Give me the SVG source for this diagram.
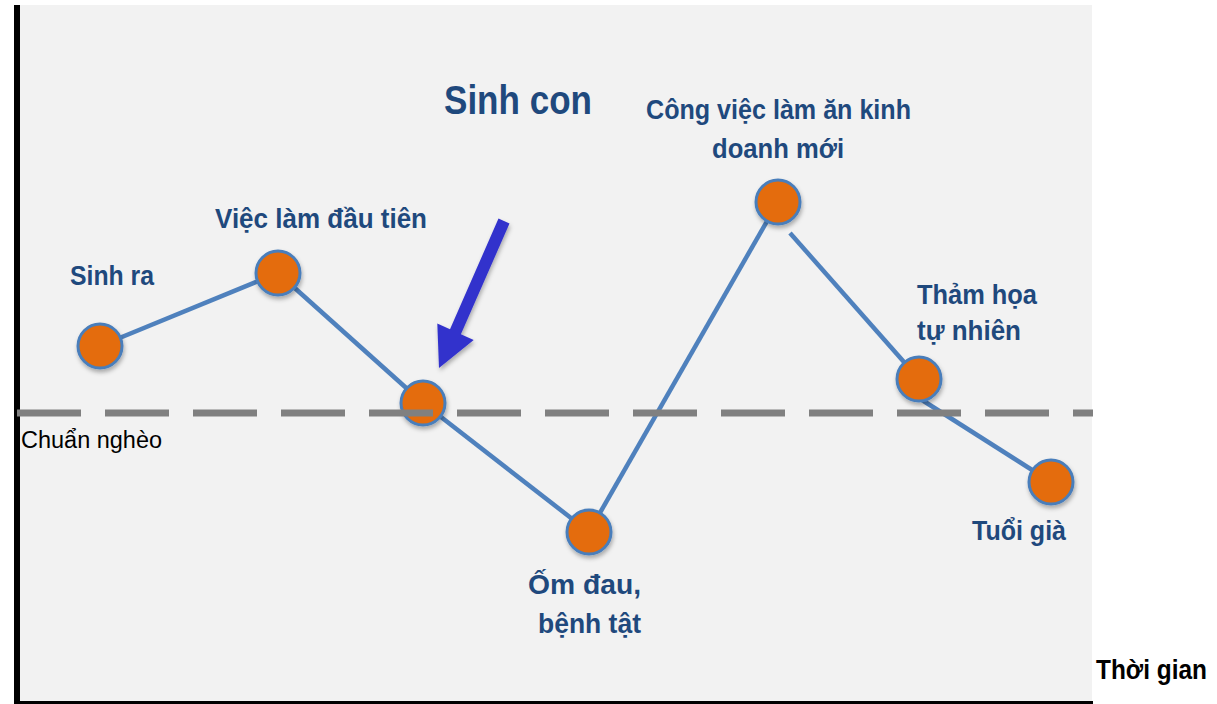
<svg xmlns="http://www.w3.org/2000/svg" width="1217" height="704" viewBox="0 0 1217 704">
  <style>
    .lbl { font-family: "Liberation Sans", Arial, sans-serif; font-weight: bold; font-size: 27px; fill: #1f497d; }
    .big { font-size: 40px; }
    .axis { fill: #000; }
    .node circle { fill: #e46c0a; stroke: #4a7ebb; stroke-width: 3; }
    .link { stroke: #4f81bd; stroke-width: 4.5; fill: none; stroke-linecap: butt; }
  </style>
  <defs>
    <filter id="shadow" x="-30%" y="-30%" width="160%" height="160%">
      <feDropShadow dx="1" dy="3" stdDeviation="2" flood-color="#000" flood-opacity="0.3"/>
    </filter>
  </defs>

  <!-- plot area -->
  <rect x="20" y="5" width="1072" height="696" fill="#f2f2f2"/>
  <rect x="14" y="5" width="6" height="699" fill="#000"/>
  <rect x="14" y="701" width="1079" height="3" fill="#000"/>

  <!-- connectors -->
  <g id="connectors">
    <line class="link" x1="100" y1="346" x2="278" y2="273"/>
    <line class="link" x1="278" y1="273" x2="423" y2="403"/>
    <line class="link" x1="423" y1="403" x2="589" y2="532"/>
    <line class="link" x1="589" y1="532" x2="778" y2="202"/>
    <line class="link" x1="790" y1="233" x2="919" y2="379"/>
    <line class="link" x1="922" y1="400" x2="1051" y2="482"/>
  </g>

  <!-- nodes -->
  <g id="n-sinh-ra" class="node"><circle cx="100" cy="346" r="22" filter="url(#shadow)"/></g>
  <g id="n-viec-lam" class="node"><circle cx="278" cy="273" r="22" filter="url(#shadow)"/></g>
  <g id="n-sinh-con" class="node"><circle cx="423" cy="403" r="22" filter="url(#shadow)"/></g>
  <g id="n-om-dau" class="node"><circle cx="589" cy="532" r="22" filter="url(#shadow)"/></g>
  <g id="n-kinh-doanh" class="node"><circle cx="778" cy="202" r="22" filter="url(#shadow)"/></g>
  <g id="n-tham-hoa" class="node"><circle cx="919" cy="379" r="22" filter="url(#shadow)"/></g>
  <g id="n-tuoi-gia" class="node"><circle cx="1051" cy="482" r="22" filter="url(#shadow)"/></g>

  <!-- poverty line -->
  <g id="poverty-line">
    <line x1="17" y1="413" x2="1093" y2="413" stroke="#808080" stroke-width="7" stroke-dasharray="64 24"/>
    <text x="21" y="448" font-family="'Liberation Sans', Arial, sans-serif" font-size="23px" fill="#000" textLength="141" lengthAdjust="spacingAndGlyphs">Chuẩn nghèo</text>
  </g>

  <!-- pointer arrow -->
  <g id="pointer">
    <polygon points="498.5,218.5 509.5,223.5 460.9,334.3 473.7,340.1 439,368 437.3,323.5 450,329.3" fill="#3333cc" filter="url(#shadow)"/>
  </g>

  <!-- labels -->
  <g id="labels">
    <text class="lbl" x="70" y="285" textLength="84" lengthAdjust="spacingAndGlyphs">Sinh ra</text>
    <text class="lbl" x="215" y="228" textLength="212" lengthAdjust="spacingAndGlyphs">Việc làm đầu tiên</text>
    <text class="lbl big" x="444" y="114" textLength="148" lengthAdjust="spacingAndGlyphs">Sinh con</text>
    <text class="lbl" x="646" y="119" textLength="265" lengthAdjust="spacingAndGlyphs">Công việc làm ăn kinh</text>
    <text class="lbl" x="712" y="158" textLength="132" lengthAdjust="spacingAndGlyphs">doanh mới</text>
    <text class="lbl" x="917" y="304" textLength="120" lengthAdjust="spacingAndGlyphs">Thảm họa</text>
    <text class="lbl" x="917" y="340" textLength="104" lengthAdjust="spacingAndGlyphs">tự nhiên</text>
    <text class="lbl" x="972" y="540" textLength="94" lengthAdjust="spacingAndGlyphs">Tuổi già</text>
    <text class="lbl" x="528" y="594" textLength="113" lengthAdjust="spacingAndGlyphs">Ốm đau,</text>
    <text class="lbl" x="538" y="633" textLength="103" lengthAdjust="spacingAndGlyphs">bệnh tật</text>
    <text class="lbl axis" x="1096" y="679" textLength="111" lengthAdjust="spacingAndGlyphs">Thời gian</text>
  </g>
</svg>
